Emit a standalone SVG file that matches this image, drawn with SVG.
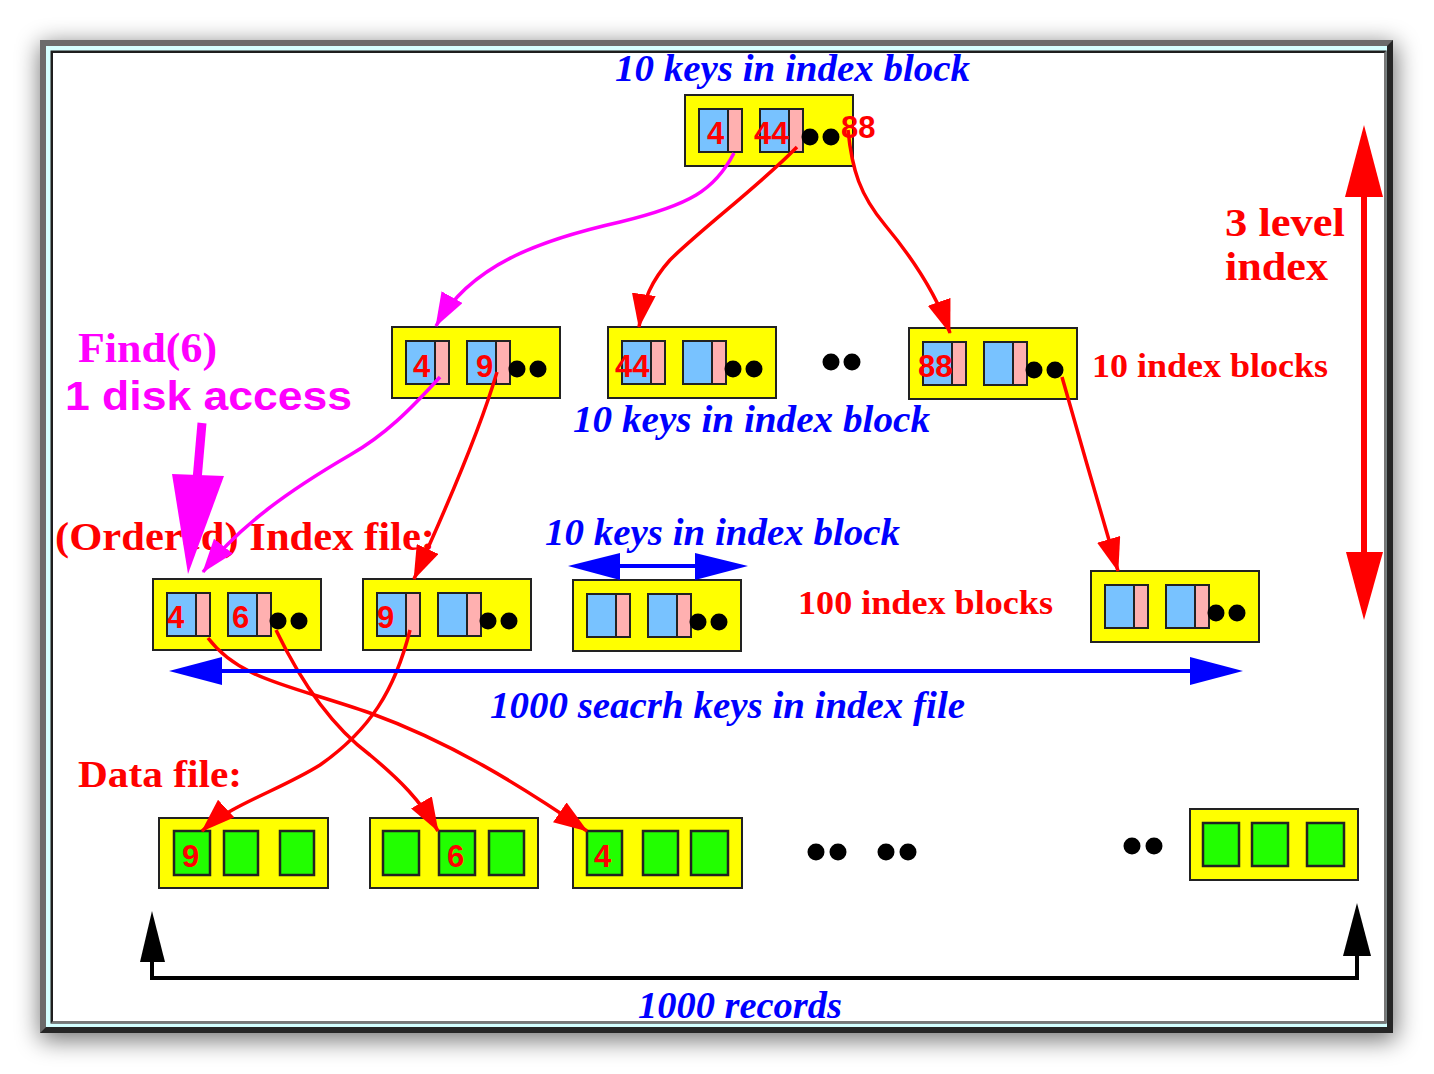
<svg xmlns="http://www.w3.org/2000/svg" width="1434" height="1074" viewBox="0 0 1434 1074">
<defs>
<filter id="shadow" x="-10%" y="-10%" width="120%" height="120%">
<feGaussianBlur stdDeviation="12"/>
</filter>
<marker id="ahRed" viewBox="0 0 34 24" refX="33" refY="12" markerUnits="userSpaceOnUse" markerWidth="34" markerHeight="24" orient="auto">
<path d="M0,0 L34,12 L0,24 z" fill="#ff0000"/>
</marker>
<marker id="ahMag" viewBox="0 0 34 24" refX="33" refY="12" markerUnits="userSpaceOnUse" markerWidth="34" markerHeight="24" orient="auto">
<path d="M0,0 L34,12 L0,24 z" fill="#ff00ff"/>
</marker>
<g id="idxTpl">
<rect x="0" y="0" width="168" height="71" class="yel"/>
<rect x="14" y="14" width="29" height="43" class="blu"/>
<rect x="43" y="14" width="14" height="43" class="pnk"/>
<rect x="75" y="14" width="29" height="43" class="blu"/>
<rect x="104" y="14" width="14" height="43" class="pnk"/>
<circle cx="125" cy="42" r="8.5" fill="#000"/>
<circle cx="146" cy="42" r="8.5" fill="#000"/>
</g>
</defs>
<style>
.yel{fill:#ffff00;stroke:#222;stroke-width:2}
.blu{fill:#78c2ff;stroke:#222;stroke-width:2}
.pnk{fill:#ffb0b0;stroke:#222;stroke-width:2}
.grn{fill:#22ff00;stroke:#222;stroke-width:2.5}
.num{font-family:"Liberation Sans",Arial,sans-serif;font-size:31px;font-weight:bold;fill:#ff0000}
.bi{font-family:"Liberation Serif","Times New Roman",serif;font-weight:bold;font-style:italic;fill:#0000ff;font-size:37px}
.rb{font-family:"Liberation Serif","Times New Roman",serif;font-weight:bold;fill:#ff0000}
.mb{font-family:"Liberation Serif","Times New Roman",serif;font-weight:bold;fill:#ff00ff}
.conR{fill:none;stroke:#ff0000;stroke-width:3.5;marker-end:url(#ahRed)}
.conM{fill:none;stroke:#ff00ff;stroke-width:3.5;marker-end:url(#ahMag)}
.dot{fill:#000}
</style>

<!-- frame -->
<g id="frame">
<rect x="40" y="44" width="1356" height="996" fill="#000" opacity="0.55" filter="url(#shadow)"/>
<rect x="40" y="40" width="1353" height="993" fill="#6b6b6b"/>
<polygon points="1393,40 1393,1033 40,1033 46,1027 1387,1027 1387,46" fill="#262626"/>
<rect x="46" y="46" width="1341" height="981" fill="#d4ffff"/>
<rect x="50.5" y="50.5" width="1336" height="973" fill="#1e1e1e"/>
<polygon points="1386.5,50.5 1386.5,1023.5 50.5,1023.5 53,1021 1384,1021 1384,53" fill="#777"/>
<rect x="53" y="53" width="1331" height="968" fill="#ffffff"/>
</g>

<!-- labels -->
<g id="labels">
<text class="bi" x="615" y="81" textLength="355" lengthAdjust="spacingAndGlyphs">10 keys in index block</text>
<text class="bi" x="573" y="432" textLength="357" lengthAdjust="spacingAndGlyphs">10 keys in index block</text>
<text class="bi" x="545" y="545" textLength="355" lengthAdjust="spacingAndGlyphs">10 keys in index block</text>
<text class="bi" x="490" y="718" textLength="475" lengthAdjust="spacingAndGlyphs">1000 seacrh keys in index file</text>
<text class="bi" x="638" y="1018" textLength="204" lengthAdjust="spacingAndGlyphs">1000 records</text>
<text class="rb" x="1225" y="236" font-size="41" textLength="120" lengthAdjust="spacingAndGlyphs">3 level</text>
<text class="rb" x="1225" y="280" font-size="41" textLength="103" lengthAdjust="spacingAndGlyphs">index</text>
<text class="rb" x="1092" y="377" font-size="34" textLength="236" lengthAdjust="spacingAndGlyphs">10 index blocks</text>
<text class="rb" x="798" y="614" font-size="34" textLength="255" lengthAdjust="spacingAndGlyphs">100 index blocks</text>
<text class="rb" x="55" y="550" font-size="41" textLength="380" lengthAdjust="spacingAndGlyphs">(Ordered) Index file:</text>
<text class="rb" x="78" y="787" font-size="38" textLength="164" lengthAdjust="spacingAndGlyphs">Data file:</text>
<text class="mb" x="78" y="362" font-size="43" textLength="139" lengthAdjust="spacingAndGlyphs">Find(6)</text>
<text x="65" y="410" font-family="'Liberation Sans',Arial,sans-serif" font-weight="bold" font-size="40" fill="#ff00ff" textLength="287" lengthAdjust="spacingAndGlyphs">1 disk access</text>
</g>

<!-- index nodes -->
<g id="topBlock">
<use href="#idxTpl" x="685" y="95"/>
<text class="num" x="707" y="144">4</text>
<text class="num" x="754" y="144">44</text>
<text class="num" x="841" y="138">88</text>
</g>
<g id="blockA">
<use href="#idxTpl" x="392" y="327"/>
<text class="num" x="413" y="377">4</text>
<text class="num" x="476" y="377">9</text>
</g>
<g id="blockB">
<use href="#idxTpl" x="608" y="327"/>
<text class="num" x="615" y="377">44</text>
</g>
<g id="midDots">
<circle class="dot" cx="831" cy="362" r="8.5"/>
<circle class="dot" cx="852" cy="362" r="8.5"/>
</g>
<g id="blockC">
<use href="#idxTpl" x="909" y="328"/>
<text class="num" x="918" y="377">88</text>
</g>
<g id="blockD">
<use href="#idxTpl" x="153" y="579"/>
<text class="num" x="167" y="628">4</text>
<text class="num" x="232" y="628">6</text>
</g>
<g id="blockE">
<use href="#idxTpl" x="363" y="579"/>
<text class="num" x="377" y="628">9</text>
</g>
<g id="blockF">
<use href="#idxTpl" x="573" y="580"/>
</g>
<g id="blockG">
<use href="#idxTpl" x="1091" y="571"/>
</g>

<!-- data nodes -->
<g id="dataH">
<rect x="159" y="818" width="169" height="70" class="yel"/>
<rect x="174" y="831" width="36" height="44" class="grn"/>
<rect x="224" y="831" width="34" height="44" class="grn"/>
<rect x="280" y="831" width="34" height="44" class="grn"/>
<text class="num" x="182" y="867">9</text>
</g>
<g id="dataI">
<rect x="370" y="818" width="168" height="70" class="yel"/>
<rect x="383" y="831" width="36" height="44" class="grn"/>
<rect x="439" y="831" width="36" height="44" class="grn"/>
<rect x="489" y="831" width="35" height="44" class="grn"/>
<text class="num" x="447" y="867">6</text>
</g>
<g id="dataJ">
<rect x="573" y="818" width="169" height="70" class="yel"/>
<rect x="587" y="831" width="35" height="44" class="grn"/>
<rect x="643" y="831" width="35" height="44" class="grn"/>
<rect x="691" y="831" width="37" height="44" class="grn"/>
<text class="num" x="594" y="867">4</text>
</g>
<g id="dataDots">
<circle class="dot" cx="816" cy="852" r="8.5"/>
<circle class="dot" cx="838" cy="852" r="8.5"/>
<circle class="dot" cx="886" cy="852" r="8.5"/>
<circle class="dot" cx="908" cy="852" r="8.5"/>
<circle class="dot" cx="1132" cy="846" r="8.5"/>
<circle class="dot" cx="1154" cy="846" r="8.5"/>
</g>
<g id="dataK">
<rect x="1190" y="809" width="168" height="71" class="yel"/>
<rect x="1203" y="823" width="36" height="43" class="grn"/>
<rect x="1252" y="823" width="36" height="43" class="grn"/>
<rect x="1307" y="823" width="37" height="43" class="grn"/>
</g>

<!-- connectors -->
<g id="connectors">
<path class="conM" d="M734,153 C715,190 690,205 620,222 C540,240 470,265 436,326"/>
<path class="conR" d="M797,147 C760,185 700,230 670,260 C652,280 643,300 639,327"/>
<path class="conR" d="M848,130 C852,170 860,195 885,225 C910,255 935,290 950,333"/>
<path class="conM" d="M440,377 C410,410 385,435 350,455 C290,490 240,525 203,572"/>
<path class="conR" d="M497,372 C480,430 450,500 414,579"/>
<path class="conR" d="M1062,377 C1080,440 1100,510 1118,571"/>
<path class="conR" d="M208,638 C240,680 290,685 370,713 C450,742 520,785 587,831"/>
<path class="conR" d="M276,630 C300,680 330,725 370,755 C400,780 420,800 438,831"/>
<path class="conR" d="M410,630 C395,690 370,730 320,765 C280,790 230,805 202,831"/>
<!-- find arrow -->
<line x1="202" y1="423" x2="197" y2="480" stroke="#ff00ff" stroke-width="9"/>
<polygon points="172,474 224,476 188,574" fill="#ff00ff"/>
<!-- 3 level arrow -->
<line x1="1364" y1="195" x2="1364" y2="554" stroke="#ff0000" stroke-width="6"/>
<polygon points="1364,125 1345,197 1383,197" fill="#ff0000"/>
<polygon points="1364,620 1346,552 1383,552" fill="#ff0000"/>
<!-- 1000 keys arrow -->
<line x1="220" y1="671" x2="1192" y2="671" stroke="#0000ff" stroke-width="4"/>
<polygon points="169,671 222,657 222,685" fill="#0000ff"/>
<polygon points="1243,671 1190,657 1190,685" fill="#0000ff"/>
<!-- 10 keys arrow -->
<line x1="618" y1="566" x2="697" y2="566" stroke="#0000ff" stroke-width="4"/>
<polygon points="568,566 620,553 620,580" fill="#0000ff"/>
<polygon points="748,566 695,553 695,580" fill="#0000ff"/>
<!-- 1000 records arrow -->
<polyline points="152,958 152,978 1357,978 1357,954" fill="none" stroke="#000" stroke-width="4"/>
<polygon points="152,911 140,962 165,962" fill="#000"/>
<polygon points="1357,903 1343,956 1371,956" fill="#000"/>
</g>
</svg>
